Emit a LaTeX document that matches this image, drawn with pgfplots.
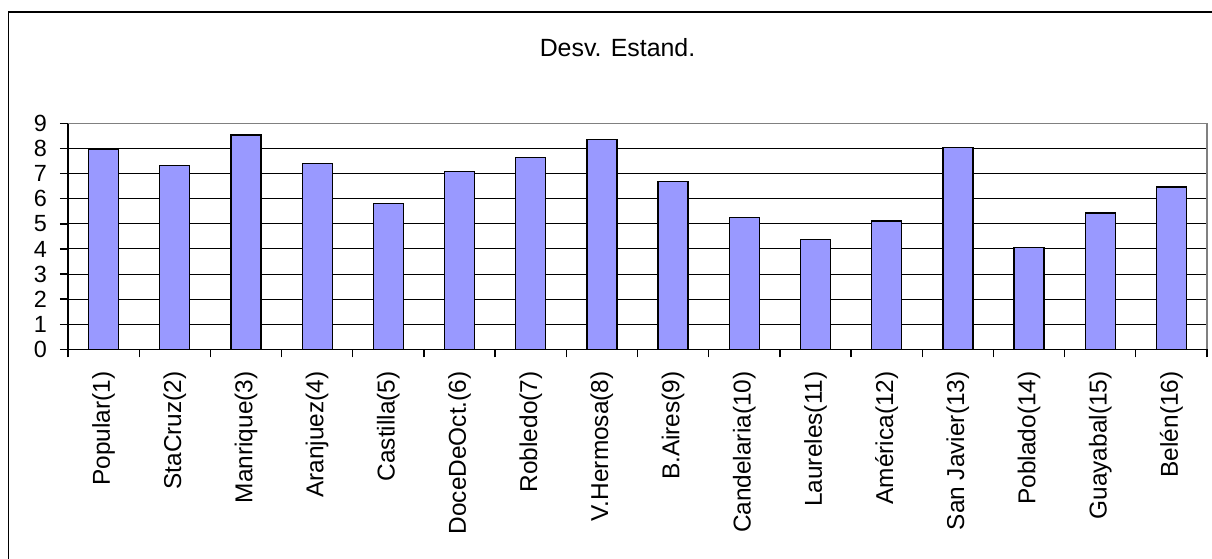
\documentclass[border=0pt]{standalone}
\usepackage{pgfplots}
\pgfplotsset{compat=1.18}
\usepackage{fontspec}
\setmainfont{Liberation Sans}
\definecolor{barblue}{HTML}{9999FF}
\definecolor{framegray}{HTML}{808080}
\pgfplotstableread{
x y
1 7.99
2 7.34
3 8.55
4 7.42
5 5.82
6 7.09
7 7.65
8 8.36
9 6.69
10 5.25
11 4.39
12 5.11
13 8.05
14 4.07
15 5.43
16 6.47
}\datatable
\begin{document}
\begin{tikzpicture}[x=1bp,y=1bp]
\path[use as bounding box] (0,0) rectangle (1212,559);
\draw[line width=1.6bp] (8.5,-5) -- (8.5,547) -- (1225,547);
\node[anchor=base, inner sep=0pt, font=\fontsize{25}{29}\selectfont] at (617.5,502.5) {Desv. Estand.};
\begin{axis}[
  at={(68bp,209.7bp)}, anchor=south west,
  scale only axis, width=1139bp, height=225.7bp,
  xmin=0.5, xmax=16.5, ymin=0, ymax=9,
  ytick={0,...,9},
  xtick={1,...,16},
  xticklabels={Popular(1),StaCruz(2),Manrique(3),Aranjuez(4),Castilla(5),DoceDeOct.(6),Robledo(7),V.Hermosa(8),B.Aires(9),Candelaria(10),Laureles(11),América(12),San Javier(13),Poblado(14),Guayabal(15),Belén(16)},
  minor xtick={0.5,1.5,...,16.5},
  major x tick style={draw=none},
  tick align=outside, tick pos=left,
  major tick length=8bp, minor tick length=8bp,
  every tick/.style={black, line width=1.3bp},
  ymajorgrids, grid style={black, line width=1bp},
  axis line style={draw=none},
  /pgf/number format/assume math mode=true,
  xticklabel style={rotate=90, anchor=east, inner sep=0pt, font=\fontsize{24.5}{28}\selectfont},
  xticklabel shift=14bp,
  yticklabel style={anchor=east, inner sep=0pt, font=\fontsize{23.5}{27}\selectfont},
  yticklabel shift=13bp,
  clip=false,
]
\addplot[ybar, bar width=30bp, fill=barblue, draw=black, line width=1.3bp] table[x=x,y=y] {\datatable};
\draw[framegray, line width=1.3bp] (rel axis cs:0,1) -- (rel axis cs:1,1) -- (rel axis cs:1,0);
\draw[black, line width=1.3bp] (rel axis cs:0,1) -- (rel axis cs:0,0) -- (rel axis cs:1,0);
\end{axis}
\end{tikzpicture}
\end{document}
